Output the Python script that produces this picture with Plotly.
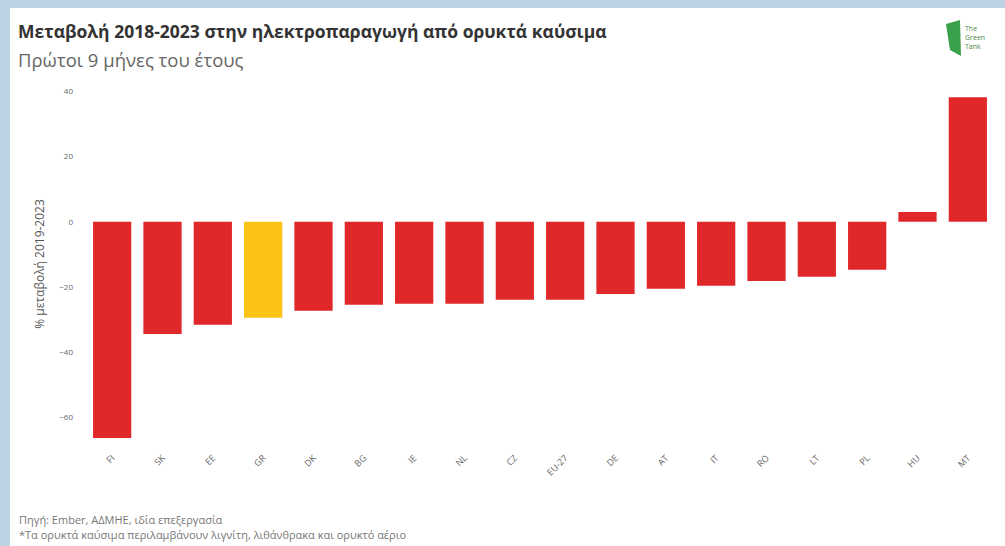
import plotly.graph_objects as go

countries = ["FI", "SK", "EE", "GR", "DK", "BG", "IE", "NL", "CZ", "EU-27",
             "DE", "AT", "IT", "RO", "LT", "PL", "HU", "MT"]
values = [-66.5, -34.5, -31.7, -29.5, -27.4, -25.5, -25.2, -25.2, -24.0, -24.0,
          -22.2, -20.6, -19.7, -18.2, -16.9, -14.8, 3.0, 38.2]
highlight = "GR"
tick_vals = [40, 20, 0, -20, -40, -60]

RED = "#e0282a"
YELLOW = "#fbc318"
colors = [YELLOW if c == highlight else RED for c in countries]

W, H = 1005, 546
L, R, T, B = 87, 12, 85, 103
pw, ph = W - L - R, H - T - B

fig = go.Figure(go.Bar(x=countries, y=values, marker=dict(color=colors, line=dict(width=0)),
                       hoverinfo="x+y"))

def px_x(p):
    return (p - L) / pw

def px_y(p):
    return (H - B - p) / ph

fig.add_shape(type="rect", xref="paper", yref="paper", x0=px_x(10), x1=px_x(1006),
              y0=px_y(547), y1=px_y(8), fillcolor="white", line=dict(width=0), layer="below")

fig.update_layout(
    width=W, height=H,
    margin=dict(l=L, r=R, t=T, b=B),
    paper_bgcolor="#bcd3e4",
    plot_bgcolor="rgba(0,0,0,0)",
    font=dict(family="Open Sans, sans-serif", color="#555"),
    bargap=0.24,
    showlegend=False,
    xaxis=dict(tickangle=-45, tickfont=dict(size=9, color="#666"), showgrid=False,
               showline=False, ticks="", automargin=False, ticklabelstandoff=7),
    yaxis=dict(range=[-68, 42], tickvals=tick_vals, tickfont=dict(size=8, color="#666"),
               showgrid=False, zeroline=False, showline=False, ticks="", automargin=False,
               ticklabelstandoff=13,
               title=dict(text="% μεταβολή 2019-2023", font=dict(size=12, color="#555"), standoff=12)),
)

fig.add_annotation(xref="paper", yref="paper", x=px_x(16), y=px_y(31), xanchor="left", yanchor="middle",
                   text="<b>Μεταβολή 2018-2023 στην ηλεκτροπαραγωγή από ορυκτά καύσιμα</b>",
                   showarrow=False, font=dict(size=17.5, color="#333"))
fig.add_annotation(xref="paper", yref="paper", x=px_x(16), y=px_y(59), xanchor="left", yanchor="middle",
                   text="Πρώτοι 9 μήνες του έτους", showarrow=False, font=dict(size=18.5, color="#666"))
fig.add_annotation(xref="paper", yref="paper", x=px_x(17), y=px_y(519), xanchor="left", yanchor="middle",
                   text="Πηγή: Ember, ΑΔΜΗΕ, ιδία επεξεργασία", showarrow=False, font=dict(size=11, color="#777"))
fig.add_annotation(xref="paper", yref="paper", x=px_x(17), y=px_y(534), xanchor="left", yanchor="middle",
                   text="*Τα ορυκτά καύσιμα περιλαμβάνουν λιγνίτη, λιθάνθρακα και ορυκτό αέριο",
                   showarrow=False, font=dict(size=11, color="#777"))
fig.add_annotation(xref="paper", yref="paper", x=px_x(963), y=px_y(38), xanchor="left", yanchor="middle",
                   text="The<br>Green<br>Tank", showarrow=False, font=dict(size=7, color="#4a8a4a"),
                   align="left")
fig.add_shape(type="path", xref="paper", yref="paper",
              path=(f"M {px_x(946)},{px_y(24)} L {px_x(960)},{px_y(20)} L {px_x(961)},{px_y(56)} "
                    f"L {px_x(950)},{px_y(50)} Z"),
              fillcolor="#3aa04a", line=dict(width=0))

fig.write_html("out.html", config={"displayModeBar": False},
               post_script="document.body.style.margin='0';document.body.style.overflow='hidden';")
